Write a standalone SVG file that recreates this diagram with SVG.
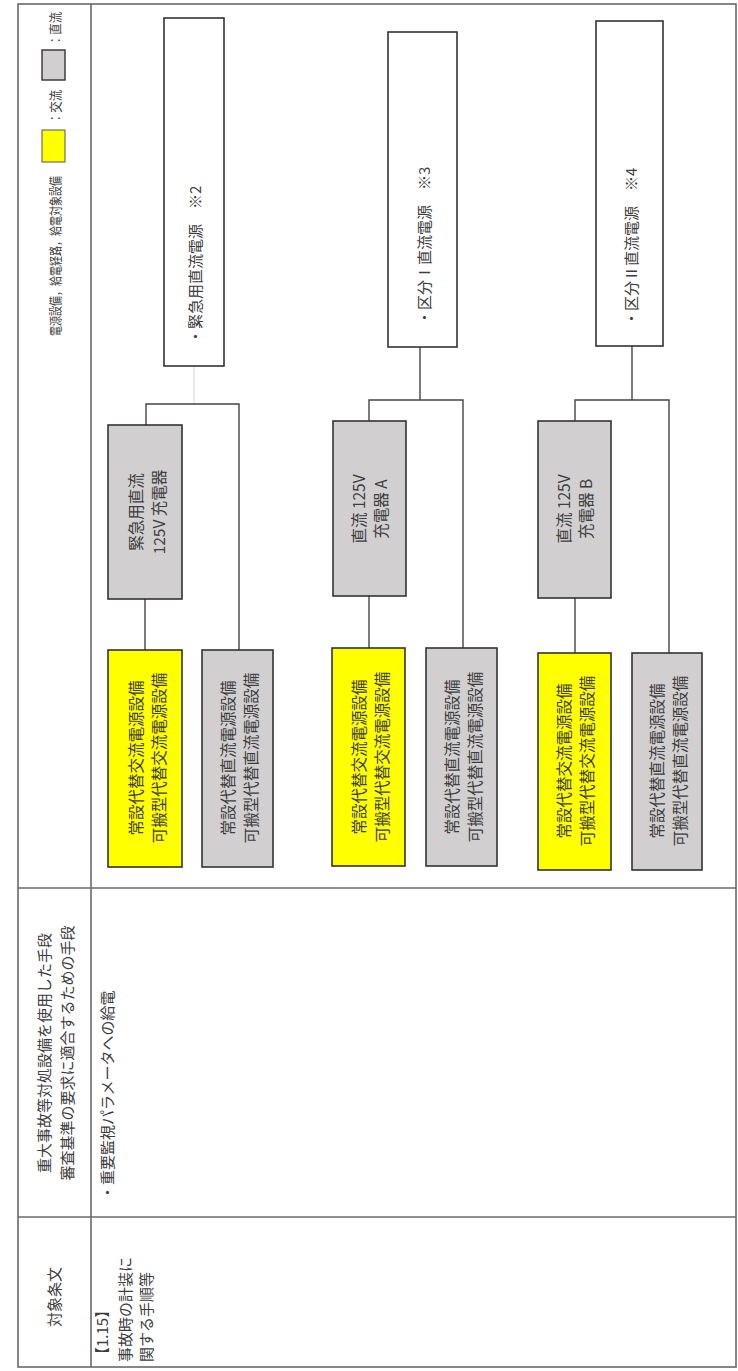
<svg xmlns="http://www.w3.org/2000/svg" width="738" height="1371" viewBox="0 0 738 1371">
<style>
text{font-family:"Noto Sans CJK JP","Noto Sans CJK SC",sans-serif;fill:#3d3d3d;}
.t{font-size:15px;}
.b{font-size:15.5px;}
.s{font-size:13px;}
.tbl{fill:none;stroke:#6a6a6a;stroke-width:1.6;}
.src{fill:#fff;stroke:#333;stroke-width:1.6;}
.ac{fill:#ffff00;stroke:#333;stroke-width:1.6;}
.dc{fill:#d1cfd0;stroke:#333;stroke-width:1.6;}
.cn{fill:none;stroke:#444;stroke-width:1.4;}
.fa{fill:none;stroke:#ddd;stroke-width:1.2;}
</style>
<g id="table">
<rect class="tbl" x="18" y="4" width="718" height="1363"/>
<line class="tbl" x1="91" y1="4" x2="91" y2="1367"/>
<line class="tbl" x1="18" y1="888" x2="736" y2="888"/>
<line class="tbl" x1="18" y1="1217" x2="736" y2="1217"/>
</g>
<g id="headers">
<text class="t" text-anchor="middle" dominant-baseline="central" transform="translate(53,1297) rotate(-90)">対象条文</text>
<text class="t" text-anchor="middle" dominant-baseline="central" transform="translate(43,1053) rotate(-90)">重大事故等対処設備を使用した手段</text>
<text class="t" text-anchor="middle" dominant-baseline="central" transform="translate(66,1053) rotate(-90)">審査基準の要求に適合するための手段</text>
</g>
<g id="legend">
<text class="s" text-anchor="start" dominant-baseline="central" textLength="160" lengthAdjust="spacingAndGlyphs" transform="translate(54,336) rotate(-90)">電源設備，給電経路，給電対象設備</text>
<rect x="42" y="130" width="23" height="32" fill="#ffff00" stroke="#555" stroke-width="1"/>
<text class="s" text-anchor="start" dominant-baseline="central" textLength="34" lengthAdjust="spacingAndGlyphs" transform="translate(54,124) rotate(-90)">：交流</text>
<rect x="42" y="50" width="23" height="30" fill="#d1cfd0" stroke="#333" stroke-width="1.4"/>
<text class="s" text-anchor="start" dominant-baseline="central" textLength="34" lengthAdjust="spacingAndGlyphs" transform="translate(54,46) rotate(-90)">：直流</text>
</g>
<g id="article">
<text class="t" text-anchor="start" dominant-baseline="central" transform="translate(101,1362) rotate(-90)">【1.15】</text>
<text class="t" text-anchor="start" dominant-baseline="central" transform="translate(124,1362) rotate(-90)">事故時の計装に</text>
<text class="t" text-anchor="start" dominant-baseline="central" transform="translate(145,1362) rotate(-90)">関する手順等</text>
</g>
<g id="means">
<text class="t" text-anchor="start" dominant-baseline="central" transform="translate(106,1200) rotate(-90)">・重要監視パラメータへの給電</text>
</g>
<g id="connectors">
<line class="fa" x1="194" y1="366" x2="194" y2="404"/>
<polyline class="cn" points="146,425 146,404 239,404 239,650"/>
<line class="cn" x1="145" y1="599" x2="145" y2="650"/>
<polyline class="cn" points="420,347 420,400"/>
<polyline class="cn" points="369,421 369,400 463,400 463,648"/>
<line class="cn" x1="369" y1="596" x2="369" y2="648"/>
<polyline class="cn" points="632,346 632,400"/>
<polyline class="cn" points="575,421 575,400 669,400 669,653"/>
<line class="cn" x1="575" y1="598" x2="575" y2="653"/>
</g>
<g id="src-emergency">
<rect class="src" x="164" y="18" width="60" height="348"/>
<text class="t" text-anchor="start" dominant-baseline="central" transform="translate(194,344) rotate(-90)">・緊急用直流電源　※2</text>
</g>
<g id="charger-emergency">
<rect class="dc" x="108" y="425" width="74" height="174"/>
<text class="b" text-anchor="middle" dominant-baseline="central" transform="translate(135,512) rotate(-90)">緊急用直流</text>
<text class="b" text-anchor="middle" dominant-baseline="central" transform="translate(158,512) rotate(-90)">125V 充電器</text>
</g>
<g id="ac-emergency">
<rect class="ac" x="108" y="650" width="74" height="217"/>
<text class="b" text-anchor="middle" dominant-baseline="central" transform="translate(135,758) rotate(-90)">常設代替交流電源設備</text>
<text class="b" text-anchor="middle" dominant-baseline="central" transform="translate(158,758) rotate(-90)">可搬型代替交流電源設備</text>
</g>
<g id="dc-emergency">
<rect class="dc" x="202" y="650" width="71" height="217"/>
<text class="b" text-anchor="middle" dominant-baseline="central" transform="translate(227,758) rotate(-90)">常設代替直流電源設備</text>
<text class="b" text-anchor="middle" dominant-baseline="central" transform="translate(250,758) rotate(-90)">可搬型代替直流電源設備</text>
</g>
<g id="src-div1">
<rect class="src" x="388" y="32" width="69" height="315"/>
<text class="t" text-anchor="start" dominant-baseline="central" transform="translate(423,325) rotate(-90)">・区分Ⅰ直流電源　※3</text>
</g>
<g id="charger-a">
<rect class="dc" x="333" y="421" width="73" height="175"/>
<text class="b" text-anchor="middle" dominant-baseline="central" transform="translate(358,509) rotate(-90)">直流 125V</text>
<text class="b" text-anchor="middle" dominant-baseline="central" transform="translate(380,509) rotate(-90)">充電器 A</text>
</g>
<g id="ac-div1">
<rect class="ac" x="332" y="648" width="73" height="218"/>
<text class="b" text-anchor="middle" dominant-baseline="central" transform="translate(358,757) rotate(-90)">常設代替交流電源設備</text>
<text class="b" text-anchor="middle" dominant-baseline="central" transform="translate(381,757) rotate(-90)">可搬型代替交流電源設備</text>
</g>
<g id="dc-div1">
<rect class="dc" x="426" y="648" width="71" height="218"/>
<text class="b" text-anchor="middle" dominant-baseline="central" transform="translate(451,757) rotate(-90)">常設代替直流電源設備</text>
<text class="b" text-anchor="middle" dominant-baseline="central" transform="translate(474,757) rotate(-90)">可搬型代替直流電源設備</text>
</g>
<g id="src-div2">
<rect class="src" x="596" y="21" width="67" height="325"/>
<text class="t" text-anchor="start" dominant-baseline="central" transform="translate(630,326) rotate(-90)">・区分Ⅱ直流電源　※4</text>
</g>
<g id="charger-b">
<rect class="dc" x="538" y="421" width="73" height="177"/>
<text class="b" text-anchor="middle" dominant-baseline="central" transform="translate(563,509) rotate(-90)">直流 125V</text>
<text class="b" text-anchor="middle" dominant-baseline="central" transform="translate(585,509) rotate(-90)">充電器 B</text>
</g>
<g id="ac-div2">
<rect class="ac" x="538" y="653" width="73" height="217"/>
<text class="b" text-anchor="middle" dominant-baseline="central" transform="translate(563,761) rotate(-90)">常設代替交流電源設備</text>
<text class="b" text-anchor="middle" dominant-baseline="central" transform="translate(586,761) rotate(-90)">可搬型代替交流電源設備</text>
</g>
<g id="dc-div2">
<rect class="dc" x="632" y="653" width="70" height="217"/>
<text class="b" text-anchor="middle" dominant-baseline="central" transform="translate(656,761) rotate(-90)">常設代替直流電源設備</text>
<text class="b" text-anchor="middle" dominant-baseline="central" transform="translate(679,761) rotate(-90)">可搬型代替直流電源設備</text>
</g>
</svg>
